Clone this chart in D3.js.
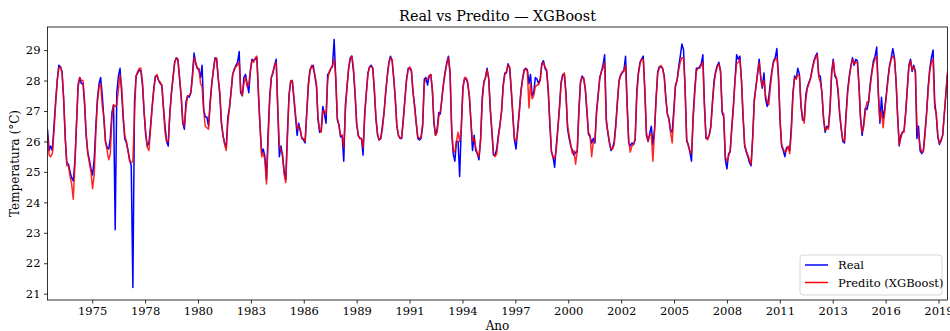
<!DOCTYPE html>
<html>
<head>
<meta charset="utf-8">
<script src="https://cdn.jsdelivr.net/npm/d3@7"></script>
<style>
  body { margin: 0; background: #fff; }
  svg text { font-family: "DejaVu Serif", serif; fill: #000; }
</style>
</head>
<body>
<div id="chart"></div>
<script>
// monthly series, first month = March 1973, last = October 2019
const startMonth = Date.UTC(1973, 2, 1);

const real = [
  26.4, 25.7, 25.85, 25.7, 26.5, 27.3, 28.0, 28.5, 28.45, 28.3,
  27.35, 26.05, 25.3, 25.25, 25.0, 24.8, 24.7, 25.35, 26.6, 27.8, 28.1, 27.9,
  27.9, 27.2, 26.2, 25.65, 25.4, 25.1, 24.9, 25.4, 26.5, 27.4, 27.9, 28.1,
  27.5, 26.7, 26.0, 25.8, 25.75, 26.1, 26.95, 27.2, 23.1, 27.6, 28.15, 28.4,
  27.6, 26.7, 26.1, 25.95, 25.7, 25.4, 25.2, 21.2, 27.3, 28.15, 28.25, 28.35,
  28.3, 27.8, 26.95, 26.2, 25.85, 25.95, 26.5, 27.15, 27.75, 28.15, 28.15, 28.0,
  27.9, 27.85, 27.15, 26.5, 26.0, 25.85, 26.95, 27.6, 28.15, 28.6, 28.75, 28.7,
  28.05, 27.45, 26.6, 26.4, 27.3, 27.5, 27.45, 27.6, 28.2, 28.9, 28.55, 28.4,
  28.35, 28.1, 28.5, 27.05, 26.8, 26.8, 26.5, 27.3, 27.9, 28.35, 28.75, 28.7,
  28.05, 27.5, 26.6, 26.2, 25.95, 25.8, 26.8, 27.1, 27.65, 28.2, 28.35, 28.5,
  28.6, 28.95, 27.6, 27.5, 28.1, 28.2, 27.9, 27.6, 28.35, 28.7, 28.65, 28.7,
  28.75, 27.5, 26.5, 25.6, 25.75, 25.5, 24.75, 26.3, 27.5, 28.1, 28.25, 28.5,
  28.7, 26.95, 25.5, 25.85, 25.5, 25.0, 24.75, 26.3, 27.55, 27.95, 28.0, 27.4,
  26.8, 26.2, 26.6, 26.35, 26.1, 26.05, 25.95, 26.95, 27.9, 28.35, 28.45, 28.5,
  28.15, 27.8, 26.75, 26.3, 26.35, 27.15, 26.9, 26.6, 28.2, 28.25, 28.4, 28.45,
  29.35, 28.05, 26.7, 26.55, 26.15, 26.2, 25.35, 27.2, 27.8, 28.4, 28.75, 28.8,
  28.3, 27.5, 26.6, 26.2, 26.1, 26.1, 25.55, 26.95, 27.6, 28.25, 28.45, 28.5,
  28.4, 27.6, 26.75, 26.2, 26.05, 26.1, 26.5, 26.95, 27.6, 28.15, 28.6, 28.8,
  28.65, 28.05, 27.45, 26.5, 26.2, 26.1, 26.1, 26.75, 27.4, 28.05, 28.4, 28.4,
  28.3, 27.6, 27.2, 26.6, 26.1, 26.05, 26.1, 26.5, 28.05, 28.1, 27.85, 28.15,
  28.2, 27.65, 26.6, 26.2, 26.4, 26.95, 26.9, 27.45, 27.95, 28.3, 28.6, 28.8,
  28.2, 26.3, 25.6, 25.35, 26.0, 26.0, 24.85, 26.5, 27.8, 28.05, 28.05, 27.9,
  27.45, 26.6, 25.7, 26.2, 25.7, 25.6, 25.4, 26.1, 27.45, 27.95, 28.1, 28.4,
  28.05, 27.0, 26.3, 25.55, 25.55, 25.75, 26.2, 26.55, 27.0, 27.85, 28.25, 28.25,
  28.55, 28.4, 27.7, 26.85, 26.05, 25.75, 26.4, 27.0, 27.65, 28.05, 28.35, 28.4,
  28.35, 27.9, 28.2, 27.5, 27.6, 28.1, 28.05, 27.9, 28.05, 28.55, 28.65, 28.4,
  28.3, 27.6, 26.6, 25.65, 25.5, 25.15, 25.85, 26.45, 27.15, 27.95, 28.2, 28.2,
  27.6, 26.4, 26.1, 25.85, 25.7, 25.55, 25.65, 25.65, 27.05, 27.95, 28.15, 28.05,
  27.7, 26.95, 26.25, 26.15, 25.95, 26.1, 25.95, 27.0, 27.55, 28.1, 28.3, 28.5,
  28.85, 26.75, 26.3, 25.95, 25.7, 25.8, 26.0, 26.6, 27.35, 28.0, 28.2, 28.25,
  28.35, 28.8, 27.3, 25.95, 25.85, 25.95, 25.9, 26.05, 27.65, 28.25, 28.6, 28.7,
  28.8, 27.6, 26.2, 26.0, 26.25, 26.5, 25.9, 26.4, 27.45, 28.3, 28.45, 28.45,
  28.4, 28.15, 27.5, 26.9, 26.75, 26.35, 26.3, 27.05, 27.85, 28.0, 28.45, 28.8,
  29.2, 29.0, 27.8, 26.0, 25.9, 25.65, 25.35, 26.85, 27.7, 28.4, 28.4, 28.45,
  28.55, 28.85, 27.3, 26.1, 26.1, 26.2, 26.5, 27.3, 28.0, 28.3, 28.5, 28.6,
  28.3, 26.95, 26.8, 25.4, 25.1, 25.6, 25.65, 26.5, 27.2, 28.05, 28.85, 28.7,
  28.8, 27.95, 26.85, 25.85, 25.65, 25.5, 25.3, 25.2, 26.2, 27.4, 27.8, 28.25,
  28.7, 28.05, 27.75, 28.25, 27.4, 27.15, 27.45, 27.95, 28.35, 28.65, 28.75, 29.05,
  28.05, 26.6, 25.85, 25.7, 25.5, 25.8, 25.8, 25.7, 26.5, 27.6, 28.15, 28.05,
  28.4, 28.2, 27.15, 26.7, 26.7, 27.55, 27.8, 27.95, 28.1, 28.4, 28.65, 28.8,
  28.9, 28.15, 28.15, 27.6, 26.75, 26.3, 26.5, 26.45, 27.1, 28.25, 28.7, 28.15,
  28.05, 27.6, 26.9, 26.4, 26.0, 25.95, 26.9, 27.7, 28.15, 28.5, 28.75, 28.5,
  28.7, 28.65, 27.9, 26.75, 26.2, 26.6, 27.1, 27.05, 27.3, 27.9, 28.3, 28.65,
  28.8, 29.1, 27.6, 26.6, 27.45, 26.75, 27.05, 27.55, 28.1, 28.5, 28.75, 29.05,
  28.75, 27.95, 26.85, 25.85, 26.2, 26.3, 26.35, 26.95, 27.75, 28.5, 28.7, 28.3,
  28.5, 28.3, 26.1, 26.5, 25.7, 25.6, 25.7, 26.3, 26.95, 27.8, 28.4, 28.75,
  29.0, 27.3, 26.9, 26.15, 25.9, 26.05, 26.2, 26.9, 27.6, 28.2
];

const predito = [
  26.2, 25.55, 25.5, 25.6, 26.3, 27.2, 28.0, 28.4, 28.45, 28.25,
  27.4, 26.1, 25.2, 25.2, 24.85, 24.6, 24.1, 25.2, 26.6, 27.9, 28.1, 28.0,
  28.0, 27.3, 26.3, 25.6, 25.3, 25.0, 24.45, 24.9, 26.3, 27.3, 27.8, 27.9,
  27.15, 26.8, 26.0, 25.7, 25.4, 25.6, 26.8, 27.2, 27.15, 27.2, 27.7, 28.2,
  27.8, 26.8, 26.2, 26.0, 25.7, 25.35, 25.3, 25.35, 26.9, 28.15, 28.3, 28.4,
  28.4, 27.9, 27.0, 26.3, 25.8, 25.7, 26.4, 27.1, 27.7, 28.1, 28.2, 28.0,
  27.95, 27.8, 27.1, 26.3, 26.0, 26.0, 26.9, 27.6, 28.1, 28.6, 28.75, 28.65,
  28.1, 27.5, 26.7, 26.5, 27.1, 27.5, 27.5, 27.6, 28.1, 28.75, 28.6, 28.4,
  28.4, 27.9, 27.8, 27.0, 26.5, 26.45, 26.4, 27.2, 27.9, 28.3, 28.7, 28.75,
  28.1, 27.6, 26.7, 26.2, 25.9, 25.7, 26.6, 27.1, 27.6, 28.2, 28.4, 28.45,
  28.5, 28.6, 27.7, 27.5, 27.9, 28.1, 27.8, 27.9, 28.3, 28.65, 28.6, 28.75,
  28.8, 27.6, 26.5, 25.5, 25.6, 25.4, 24.6, 26.0, 27.4, 28.1, 28.3, 28.5,
  28.6, 27.0, 25.9, 25.7, 25.6, 24.9, 24.65, 26.1, 27.5, 28.0, 28.0, 27.5,
  26.9, 26.4, 26.5, 26.4, 26.1, 26.1, 26.0, 26.9, 27.8, 28.3, 28.5, 28.4,
  28.2, 27.9, 26.8, 26.4, 26.3, 27.0, 27.0, 26.9, 28.0, 28.3, 28.4, 28.5,
  28.7, 28.1, 26.8, 26.5, 26.2, 26.2, 25.8, 27.0, 27.8, 28.4, 28.7, 28.8,
  28.4, 27.6, 26.6, 26.2, 26.1, 26.1, 25.8, 26.8, 27.6, 28.2, 28.45, 28.45,
  28.4, 27.7, 26.8, 26.25, 26.05, 26.1, 26.4, 26.9, 27.6, 28.1, 28.55, 28.75,
  28.7, 28.1, 27.4, 26.5, 26.2, 26.1, 26.15, 26.7, 27.4, 28.0, 28.35, 28.45,
  28.35, 27.6, 27.1, 26.6, 26.15, 26.1, 26.15, 26.6, 27.9, 28.05, 28.05, 28.15,
  28.2, 27.7, 26.7, 26.2, 26.3, 26.8, 27.0, 27.4, 27.9, 28.25, 28.55, 28.75,
  28.3, 26.4, 25.7, 25.65, 26.0, 26.3, 26.0, 26.4, 27.7, 28.1, 28.1, 27.95,
  27.5, 26.6, 26.0, 26.1, 25.8, 25.6, 25.5, 26.0, 27.3, 27.9, 28.1, 28.35,
  28.1, 27.1, 26.4, 25.6, 25.5, 25.6, 26.1, 26.5, 27.0, 27.8, 28.2, 28.3,
  28.5, 28.45, 27.8, 26.9, 26.1, 26.0, 26.3, 26.9, 27.6, 28.0, 28.3, 28.4,
  28.3, 27.1, 27.9, 27.4, 27.5, 27.8, 27.85, 27.85, 28.0, 28.5, 28.6, 28.45,
  28.35, 27.7, 26.7, 25.7, 25.45, 25.45, 25.7, 26.4, 27.1, 27.9, 28.15, 28.25,
  27.5, 26.5, 26.2, 25.9, 25.6, 25.7, 25.25, 25.7, 26.9, 27.9, 28.1, 28.1,
  27.75, 27.0, 26.3, 26.2, 25.5, 26.0, 26.0, 26.9, 27.5, 28.05, 28.3, 28.4,
  28.6, 26.6, 26.35, 26.0, 25.75, 25.75, 25.9, 26.5, 27.3, 28.0, 28.15, 28.3,
  28.3, 28.5, 27.2, 26.0, 25.65, 25.85, 25.9, 26.1, 27.5, 28.2, 28.55, 28.7,
  28.7, 27.7, 26.3, 26.0, 26.2, 26.25, 25.35, 26.3, 27.4, 28.25, 28.4, 28.5,
  28.4, 28.1, 27.4, 26.9, 26.7, 26.3, 25.95, 26.9, 27.8, 28.0, 28.35, 28.6,
  28.75, 28.75, 27.8, 26.1, 25.85, 25.7, 25.6, 26.7, 27.6, 28.3, 28.4, 28.4,
  28.5, 28.6, 27.2, 26.15, 26.05, 26.2, 26.45, 27.2, 27.9, 28.25, 28.45, 28.55,
  28.3, 27.0, 26.9, 25.5, 25.35, 25.5, 25.7, 26.4, 27.1, 28.0, 28.55, 28.6,
  28.7, 28.0, 26.9, 25.9, 25.7, 25.55, 25.4, 25.25, 26.1, 27.3, 27.8, 28.2,
  28.6, 28.1, 27.8, 28.0, 27.5, 27.3, 27.2, 27.8, 28.3, 28.6, 28.7, 28.75,
  28.2, 26.7, 25.9, 25.75, 25.65, 25.7, 25.85, 25.6, 26.3, 27.5, 28.1, 28.05,
  28.2, 28.15, 27.2, 26.8, 26.6, 27.4, 27.75, 27.9, 28.1, 28.35, 28.6, 28.75,
  28.85, 28.1, 27.95, 27.6, 26.8, 26.35, 26.45, 26.4, 27.0, 28.2, 28.65, 28.2,
  28.1, 27.7, 27.0, 26.45, 26.05, 26.0, 26.8, 27.6, 28.1, 28.45, 28.7, 28.55,
  28.6, 28.6, 27.85, 26.8, 26.3, 26.5, 27.0, 27.3, 27.3, 27.8, 28.25, 28.55,
  28.7, 28.8, 27.7, 26.7, 27.0, 26.45, 26.95, 27.5, 28.0, 28.45, 28.7, 28.8,
  28.7, 28.0, 26.9, 25.9, 26.1, 26.3, 26.3, 26.9, 27.7, 28.45, 28.65, 28.35,
  28.45, 28.25, 26.6, 26.2, 25.85, 25.65, 25.65, 26.2, 26.9, 27.7, 28.35, 28.6,
  28.7, 27.1, 26.95, 26.2, 25.95, 26.0, 26.2, 26.85, 27.55, 28.3
];

// x ticks (every 1000 days) and their labels
const tickDates = ["1975-06-24", "1978-03-20", "1980-12-14", "1983-09-10", "1986-06-06",
  "1989-03-02", "1991-11-27", "1994-08-23", "1997-05-19", "2000-02-13", "2002-11-09",
  "2005-08-05", "2008-05-01", "2011-01-26", "2013-10-22", "2016-07-18", "2019-04-14"];
const tickLabels = ["1975", "1978", "1980", "1983", "1986", "1989", "1991", "1994", "1997",
  "2000", "2002", "2005", "2008", "2011", "2013", "2016", "2019"];
const yTicks = [21, 22, 23, 24, 25, 26, 27, 28, 29];

const width = 950, height = 331;
const margin = {top: 27, right: 2.5, bottom: 31, left: 47.5};
const plotW = width - margin.left - margin.right;
const plotH = height - margin.top - margin.bottom;

const dates = real.map((d, i) => d3.utcMonth.offset(new Date(startMonth), i));

const svg = d3.select('#chart').append('svg')
  .attr('width', width)
  .attr('height', height);

const x = d3.scaleUtc()
  .domain([dates[0], dates[dates.length - 1]])
  .range([0, plotW]);

// matplotlib style 5% padding on y
const lo = d3.min([d3.min(real), d3.min(predito)]);
const hi = d3.max([d3.max(real), d3.max(predito)]);
const pad = (hi - lo) * 0.05;
const y = d3.scaleLinear()
  .domain([lo - pad, hi + pad])
  .range([plotH, 0]);

const g = svg.append('g')
  .attr('transform', 'translate(' + margin.left + ',' + margin.top + ')');

g.append('defs').append('clipPath').attr('id', 'clip')
  .append('rect').attr('width', plotW).attr('height', plotH);

const line = d3.line()
  .x((d, i) => x(dates[i]))
  .y(d => y(d));

const lines = g.append('g').attr('clip-path', 'url(#clip)');
lines.append('path').datum(real)
  .attr('fill', 'none')
  .attr('stroke', '#0000ff')
  .attr('stroke-width', 1.5)
  .attr('stroke-linejoin', 'round')
  .attr('d', line);
lines.append('path').datum(predito)
  .attr('fill', 'none')
  .attr('stroke', '#ff0000')
  .attr('stroke-opacity', 0.85)
  .attr('stroke-width', 1.5)
  .attr('stroke-linejoin', 'round')
  .attr('d', line);

// X axis
const xAxis = g.append('g')
  .attr('transform', 'translate(0,' + plotH + ')')
  .call(d3.axisBottom(x)
    .tickValues(tickDates.map(s => new Date(s + 'T00:00:00Z')))
    .tickFormat((d, i) => tickLabels[i])
    .tickSizeOuter(0)
    .tickSize(3.5)
    .tickPadding(3.5));

// Y axis
const yAxis = g.append('g')
  .call(d3.axisLeft(y)
    .tickValues(yTicks)
    .tickFormat(d3.format('d'))
    .tickSizeOuter(0)
    .tickSize(3.5)
    .tickPadding(3.5));

[xAxis, yAxis].forEach(a => {
  a.select('.domain').remove();
  a.selectAll('line').attr('stroke', '#000').attr('stroke-width', 0.8);
  a.selectAll('text').style('font-family', '"DejaVu Serif", serif').style('font-size', '11.5px').attr('fill', '#000');
});

// frame
g.append('rect')
  .attr('width', plotW).attr('height', plotH)
  .attr('fill', 'none').attr('stroke', '#000').attr('stroke-width', 0.8);

// title and labels
svg.append('text')
  .attr('x', margin.left + plotW / 2).attr('y', 21)
  .attr('text-anchor', 'middle')
  .style('font-size', '14.4px')
  .text('Real vs Predito — XGBoost');

svg.append('text')
  .attr('x', margin.left + plotW / 2).attr('y', 330)
  .attr('text-anchor', 'middle')
  .style('font-size', '12px')
  .text('Ano');

svg.append('text')
  .attr('transform', 'translate(19,' + (margin.top + plotH / 2) + ') rotate(-90)')
  .attr('text-anchor', 'middle')
  .style('font-size', '12px')
  .text('Temperatura (°C)');

// legend
const legendItems = [
  {label: 'Real', color: '#0000ff'},
  {label: 'Predito (XGBoost)', color: '#ff0000'}
];
const lg = svg.append('g').attr('transform', 'translate(800,255)');
lg.append('rect')
  .attr('width', 142).attr('height', 40).attr('rx', 3)
  .attr('fill', '#fff').attr('fill-opacity', 0.8)
  .attr('stroke', '#cccccc').attr('stroke-width', 0.8);
legendItems.forEach((it, i) => {
  const yy = 10 + i * 17.5;
  lg.append('line')
    .attr('x1', 5).attr('x2', 28).attr('y1', yy).attr('y2', yy)
    .attr('stroke', it.color).attr('stroke-width', 1.5);
  lg.append('text')
    .attr('x', 38).attr('y', yy).attr('dy', '0.35em')
    .style('font-size', '11.5px')
    .text(it.label);
});
</script>
</body>
</html>
